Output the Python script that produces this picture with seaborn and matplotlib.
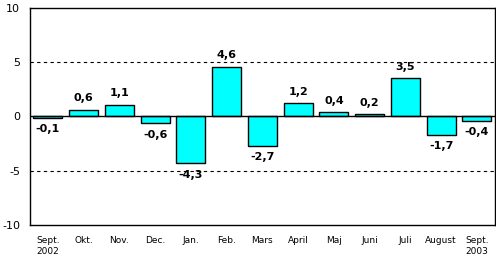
import matplotlib
matplotlib.use("Agg")
import matplotlib.pyplot as plt
import seaborn as sns
import pandas as pd

months = ["Sept.\n2002", "Okt.", "Nov.", "Dec.", "Jan.", "Feb.", "Mars", "April",
          "Maj", "Juni", "Juli", "August", "Sept.\n2003"]
values = [-0.1, 0.6, 1.1, -0.6, -4.3, 4.6, -2.7, 1.2, 0.4, 0.2, 3.5, -1.7, -0.4]
labels = ["-0,1", "0,6", "1,1", "-0,6", "-4,3", "4,6", "-2,7", "1,2", "0,4", "0,2", "3,5", "-1,7", "-0,4"]
yticks = [-10, -5, 0, 5, 10]

sns.set_style("white")
plt.rcParams['font.family'] = ['DejaVu Sans']
plt.rcParams['text.color'] = 'black'
plt.rcParams['xtick.color'] = 'black'
plt.rcParams['ytick.color'] = 'black'

df = pd.DataFrame({"month": months, "value": values})
fig = plt.figure(figsize=(4.96, 2.56), dpi=100)
ax = fig.add_axes([0.0605, 0.121, 0.937, 0.848])
sns.barplot(data=df, x="month", y="value", color="#00FFFF", edgecolor="black",
            linewidth=1, width=0.81, saturation=1, ax=ax)
ax.set_ylim(-10, 10)
ax.set_xlim(-0.5, len(months) - 0.5)
ax.set_yticks(yticks)
ax.set_yticklabels([str(t) for t in yticks], fontsize=8)
ax.tick_params(axis="y", length=0, pad=7)
ax.tick_params(axis="x", length=0, labelsize=6.5, pad=8)
ax.set_xlabel("")
ax.set_ylabel("")
for y in (5, -5):
    ax.axhline(y, color="black", linestyle=(0, (3, 3)), linewidth=0.8, zorder=0)
ax.axhline(0, color="black", linewidth=1, zorder=3)
for i, (v, l) in enumerate(zip(values, labels)):
    if v >= 0:
        ax.text(i, v + 0.6, l, ha="center", va="bottom", fontsize=8, fontweight="bold")
    else:
        ax.text(i, v - 0.6, l, ha="center", va="top", fontsize=8, fontweight="bold")
for s in ax.spines.values():
    s.set_visible(True)
    s.set_color("black")
    s.set_linewidth(1)
fig.savefig("out.png", dpi=100)
